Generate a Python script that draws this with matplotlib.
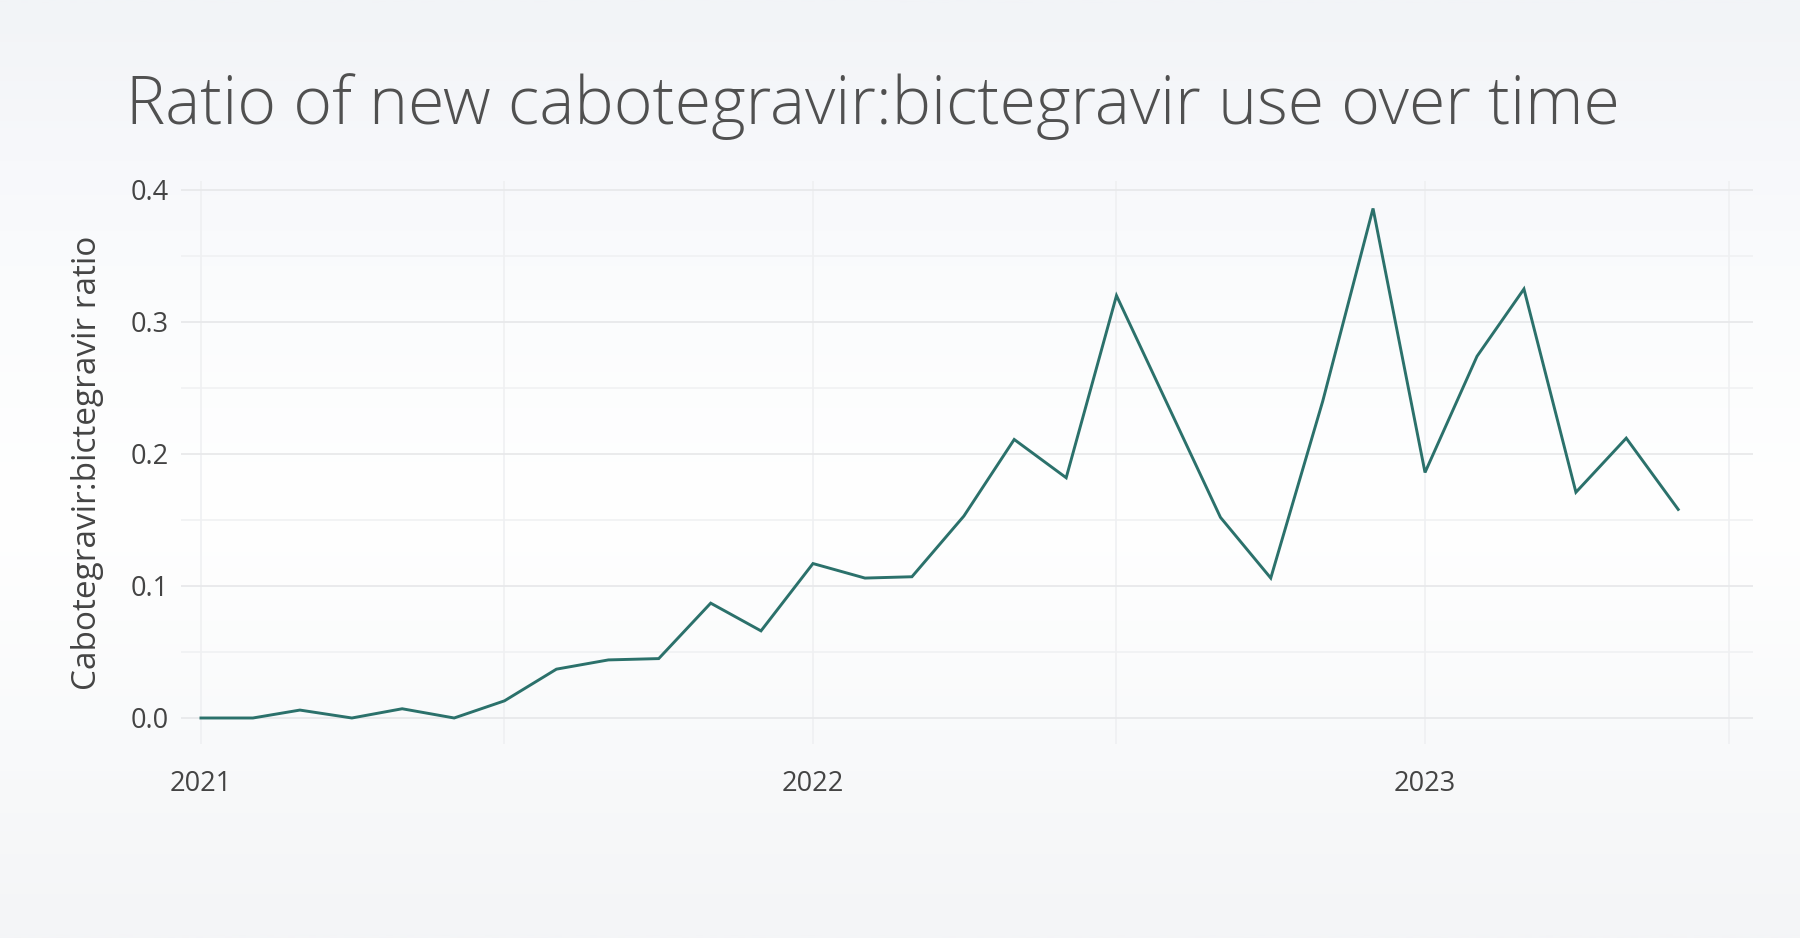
import matplotlib
matplotlib.use("Agg")
import matplotlib.pyplot as plt
import matplotlib.dates as mdates
from matplotlib.colors import LinearSegmentedColormap
import numpy as np
import pandas as pd

# ---- data ----
months = pd.date_range("2021-01-01", "2023-06-01", freq="MS")
ratio = [0.000, 0.000, 0.006, 0.000, 0.007, 0.000, 0.013, 0.037, 0.044, 0.045,
         0.087, 0.066, 0.117, 0.106, 0.107, 0.153, 0.211, 0.182, 0.320, 0.236,
         0.152, 0.106, 0.240, 0.386, 0.186, 0.274, 0.325, 0.171, 0.212, 0.158]
year_ticks = ["2021", "2022", "2023"]
y_ticks = [0.0, 0.1, 0.2, 0.3, 0.4]

title = "Ratio of new cabotegravir:bictegravir use over time"
ylabel = "Cabotegravir:bictegravir ratio"

plt.rcParams['font.family'] = ['Open Sans', 'DejaVu Sans']

W, H = 1800, 938
fig = plt.figure(figsize=(W / 100, H / 100), dpi=100)

# background gradient
bg = fig.add_axes([0, 0, 1, 1], zorder=-10)
stops = [(0.0, "#f2f4f7"), (0.17, "#f7f8fb"), (0.32, "#fbfcfd"), (0.55, "#ffffff"),
         (0.78, "#f9fafb"), (1.0, "#f4f5f7")]
cmap = LinearSegmentedColormap.from_list("bg", stops)
grad = np.linspace(0, 1, 400).reshape(-1, 1)
bg.imshow(grad, aspect="auto", cmap=cmap, extent=[0, 1, 0, 1], origin="upper")
bg.set_axis_off()

ax = fig.add_axes([181 / W, 1 - 744 / H, (1753 - 181) / W, (744 - 181) / H])
ax.patch.set_alpha(0)

ax.plot(months, ratio, color="#2b716b", lw=2.1, solid_joinstyle="miter", zorder=3)

x0 = pd.Timestamp("2021-01-01") - pd.Timedelta(days=11.9)
x1 = pd.Timestamp("2023-01-01") + pd.Timedelta(days=195.6)
ax.set_xlim(x0, x1)
ax.set_ylim(-0.0197, 0.4068)

# grids
ax.set_yticks(y_ticks)
ax.set_yticklabels([f"{v:.1f}" for v in y_ticks])
ax.set_yticks([0.05, 0.15, 0.25, 0.35], minor=True)
ax.grid(axis="y", which="major", color="#e8e9eb", lw=1.3)
ax.grid(axis="y", which="minor", color="#eff0f2", lw=1.1)

grid_dates = pd.date_range("2021-01-01", "2023-07-01", freq="6MS")
for d in grid_dates:
    ax.axvline(d, color="#eeeff1", lw=1.1, zorder=0)

xt = [pd.Timestamp(f"{y}-01-01") for y in year_ticks]
ax.set_xticks(xt)
ax.set_xticklabels(year_ticks)

for s in ax.spines.values():
    s.set_visible(False)
ax.tick_params(axis="both", which="both", length=0)
ax.tick_params(axis="x", labelsize=19.5, colors="#444444", pad=19)
ax.tick_params(axis="y", labelsize=19.5, colors="#444444", pad=9)

ax.set_ylabel(ylabel, fontsize=24, color="#444444", va="center")
ax.yaxis.set_label_coords((88 - 181) / (1753 - 181), 0.5)

fig.text(126 / W, 1 - 124 / H, title, fontsize=47.6, fontweight="light",
         color="#505050", va="baseline", ha="left")

fig.savefig("out.png", dpi=100)
